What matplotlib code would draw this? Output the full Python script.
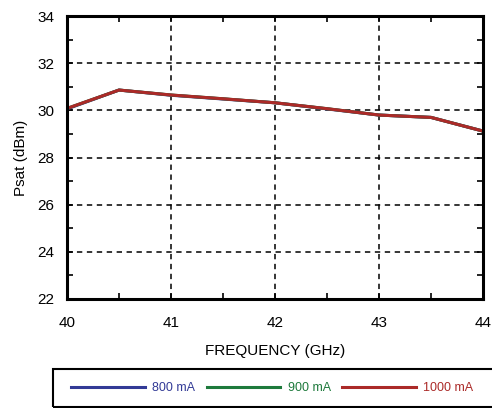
import matplotlib.pyplot as plt
from matplotlib.patches import Rectangle

plt.rcParams['font.family'] = ['Liberation Sans', 'DejaVu Sans']

freq = [40.0, 40.5, 41.0, 41.5, 42.0, 42.5, 43.0, 43.5, 44.0]
psat_800 = [30.06, 30.86, 30.64, 30.48, 30.32, 30.06, 29.80, 29.70, 29.12]
psat_900 = [30.08, 30.86, 30.65, 30.49, 30.32, 30.07, 29.80, 29.70, 29.12]
psat_1000 = [30.08, 30.86, 30.65, 30.49, 30.32, 30.07, 29.80, 29.70, 29.12]

labels = ['800 mA', '900 mA', '1000 mA']
colors = ['#323a96', '#1e7a3c', '#ab2a28']

W, H = 492, 408
fig = plt.figure(figsize=(W / 100, H / 100), dpi=100)
ax = fig.add_axes([67 / W, 1 - 299 / H, (483 - 67) / W, (299 - 16) / H])

for y, c, lab in zip([psat_800, psat_900, psat_1000], colors, labels):
    ax.plot(freq, y, color=c, linewidth=2.2, label=lab)

ax.set_xlim(40, 44)
ax.set_ylim(22, 34)
ax.set_xticks([40, 41, 42, 43, 44])
ax.set_xticks([40.5, 41.5, 42.5, 43.5], minor=True)
ax.set_yticks([22, 24, 26, 28, 30, 32, 34])
ax.set_yticks([23, 25, 27, 29, 31, 33], minor=True)
ax.grid(which='major', color='black', linestyle=(0, (3.5, 3)), linewidth=1.1)
ax.tick_params(which='both', direction='in', top=True, right=True, labelsize=11,
               width=1.2, color='black')
ax.tick_params(which='major', length=4, pad=12)
ax.tick_params(which='minor', length=4)
ax.tick_params(axis='y', which='major', pad=9)
for s in ax.spines.values():
    s.set_linewidth(2.2)

ax.set_xlabel('FREQUENCY (GHz)', fontsize=11, labelpad=10)
ax.set_ylabel('Psat (dBm)', fontsize=11, labelpad=7)

# legend box below the plot
fig.patches.append(Rectangle((53 / W, 1 - 407 / H), 445 / W, 38 / H,
                             transform=fig.transFigure, fill=False,
                             edgecolor='black', linewidth=1.5))
leg = fig.legend(loc='center left', bbox_to_anchor=(66 / W, 1 - 388 / H), ncol=3,
                 frameon=False, fontsize=9, handlelength=5.9, handletextpad=0.6,
                 columnspacing=0.9, borderaxespad=0, labelcolor=colors)

fig.savefig('out.png', dpi=100)
